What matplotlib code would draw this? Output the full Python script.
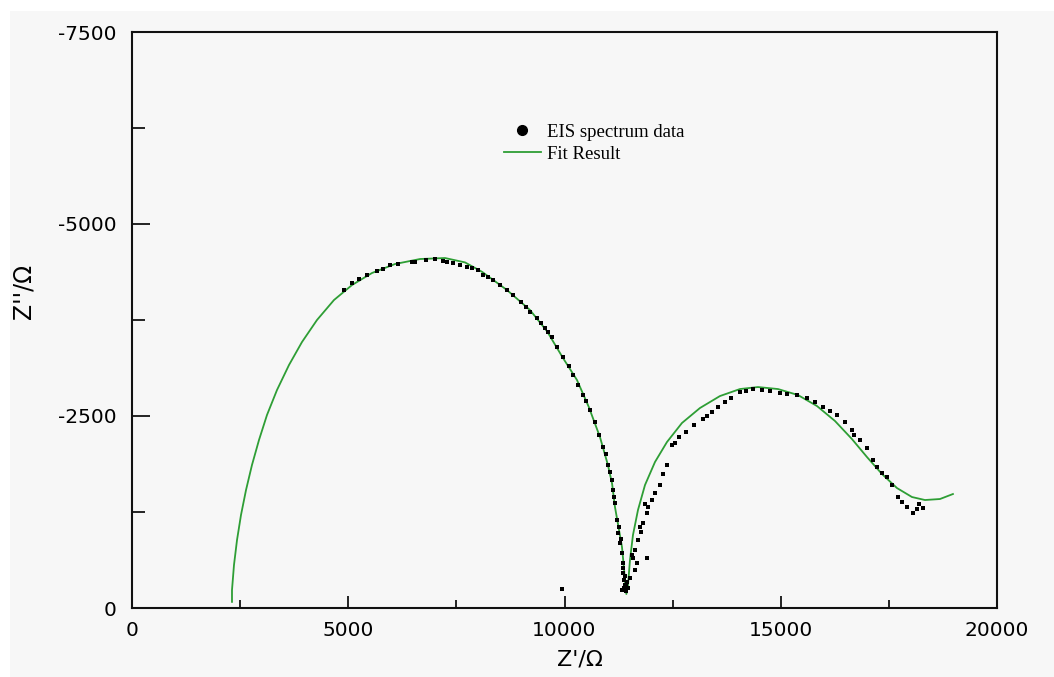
import matplotlib.pyplot as plt
from matplotlib.lines import Line2D
from matplotlib.patches import Rectangle
from matplotlib.ticker import MultipleLocator

# EIS spectrum data (Z' , -Z'' read as plotted, ohm)
data_zre = [4900, 5090, 5250, 5430, 5665, 5800, 5965, 6150, 6475, 6545,
            6800, 7000, 7190, 7285, 7420, 7585, 7745, 7860, 8000, 8115,
            8230, 8345, 8500, 8670, 8820, 9000, 9100, 9200, 9365, 9450,
            9550, 9620, 9710, 9825, 9965, 10100, 10200, 10310, 10425, 10500,
            10590, 10705, 10800, 10890, 10950, 11005, 11050, 11100, 11120, 11150,
            11165, 11215, 11235, 11250, 11285, 11300, 11330, 11350, 11350, 11360,
            11375, 11390, 11400, 11420, 11380, 11430, 11330, 11445, 11470, 11515,
            11560, 11585, 11620, 11640, 11675, 11700, 11745, 11760, 11815, 11850,
            11905, 11905, 11930, 12020, 12100, 12205, 12280, 12370, 12485, 12555,
            12650, 12800, 13000, 13200, 13300, 13410, 13550, 13710, 13850, 14055,
            14200, 14360, 14565, 14750, 14980, 15150, 15375, 15605, 15800, 15975,
            16150, 16300, 16480, 16645, 16700, 16830, 16995, 17130, 17230, 17340,
            17460, 17570, 17710, 17800, 17920, 18055, 18150, 18200, 18290, 9950]
data_zim = [-4140, -4230, -4290, -4335, -4390, -4420, -4465, -4480, -4505, -4505,
            -4530, -4540, -4520, -4505, -4490, -4465, -4440, -4425, -4400, -4335,
            -4310, -4270, -4210, -4140, -4080, -3980, -3920, -3855, -3775, -3710,
            -3645, -3590, -3530, -3400, -3270, -3150, -3030, -2905, -2775, -2690,
            -2580, -2420, -2250, -2095, -2000, -1860, -1770, -1665, -1535, -1450,
            -1365, -1145, -975, -1050, -845, -900, -715, -585, -455, -520,
            -365, -420, -300, -280, -260, -220, -235, -340, -260, -390,
            -690, -650, -500, -760, -585, -885, -1055, -990, -1105, -1350,
            -1235, -650, -1315, -1405, -1500, -1600, -1750, -1860, -2120, -2150,
            -2230, -2290, -2380, -2460, -2500, -2550, -2620, -2680, -2740, -2810,
            -2830, -2850, -2840, -2830, -2800, -2790, -2775, -2735, -2680, -2615,
            -2560, -2515, -2420, -2315, -2250, -2185, -2085, -1925, -1840, -1760,
            -1700, -1600, -1445, -1380, -1315, -1235, -1290, -1350, -1300, -250]

# fit result curve
fit_zre = [2312, 2312, 2358, 2428, 2520, 2636, 2774, 2936, 3121, 3352,
           3630, 3930, 4277, 4670, 5086, 5549, 6081, 6659, 7237, 7700,
           8100, 8670, 9202, 9600, 9965, 10288, 10560, 10820, 11005, 11100,
           11167, 11250, 11329, 11375, 11405, 11430, 11468, 11514, 11583, 11699,
           11861, 12092, 12369, 12716, 13132, 13595, 14057, 14473, 14936, 15398,
           15837, 16254, 16646, 16993, 17340, 17687, 18034, 18334, 18681, 18981]
fit_zim = [-80, -234, -560, -885, -1211, -1536, -1862, -2187, -2513, -2838,
           -3164, -3463, -3750, -4010, -4205, -4362, -4479, -4544, -4557, -4500,
           -4375, -4140, -3880, -3600, -3255, -2969, -2620, -2226, -1860, -1620,
           -1315, -1050, -794, -520, -300, -182, -299, -625, -950, -1276,
           -1601, -1901, -2161, -2409, -2604, -2760, -2851, -2877, -2851, -2773,
           -2630, -2435, -2200, -1966, -1745, -1562, -1445, -1406, -1419, -1484]

fig = plt.figure(figsize=(10.54, 6.77), dpi=100)
fig.patch.set_facecolor('white')
# grey panel behind everything, white strip on top and left
fig.patches.append(Rectangle((10/1054, 0), 1, 1 - 11/677, transform=fig.transFigure,
                             facecolor='#f7f7f7', edgecolor='none', zorder=-10))

ax = fig.add_axes([132/1054, 1 - 608/677, 865/1054, 576/677])
ax.set_facecolor('#f7f7f7')

ax.plot(fit_zre, fit_zim, color='#2e9e35', lw=1.3, zorder=2)
ax.plot(data_zre, data_zim, 's', color='black', ms=2.3, mew=0, zorder=3)

ax.set_xlim(0, 20000)
ax.set_ylim(0, -7500)

ax.xaxis.set_major_locator(MultipleLocator(5000))
ax.xaxis.set_minor_locator(MultipleLocator(2500))
ax.yaxis.set_major_locator(MultipleLocator(2500))
ax.yaxis.set_minor_locator(MultipleLocator(1250))
ax.xaxis.set_major_formatter(lambda v, p: '%d' % v)
ax.yaxis.set_major_formatter(lambda v, p: '%d' % v)

ax.tick_params(axis='x', which='major', direction='in', length=9, width=1.2,
               labelsize=14.5, pad=9, top=False)
ax.tick_params(axis='x', which='minor', direction='in', length=6, width=1.2, top=False)
ax.tick_params(axis='y', which='major', direction='in', length=13, width=1.2,
               labelsize=14.5, pad=11, right=False)
ax.tick_params(axis='y', which='minor', direction='in', length=9, width=1.2, right=False)

for s in ax.spines.values():
    s.set_linewidth(1.5)
    s.set_color('#111111')

ax.set_xlabel("Z'/\u03a9", fontsize=16)
ax.xaxis.set_label_coords(0.518, -0.072)
ax.set_ylabel("Z''/\u03a9", fontsize=17)
ax.yaxis.set_label_coords(-0.112, 0.55)

handles = [Line2D([], [], marker='o', ls='none', color='black', ms=7),
           Line2D([], [], color='#2e9e35', lw=1.3)]
ax.legend(handles, ['EIS spectrum data', 'Fit Result'], loc='upper left',
          bbox_to_anchor=(0.41, 0.87), frameon=False, handlelength=2.0,
          handletextpad=0.3, labelspacing=0.25,
          prop={'family': 'Liberation Serif', 'size': 13.5})

fig.savefig('out.png', dpi=100)
